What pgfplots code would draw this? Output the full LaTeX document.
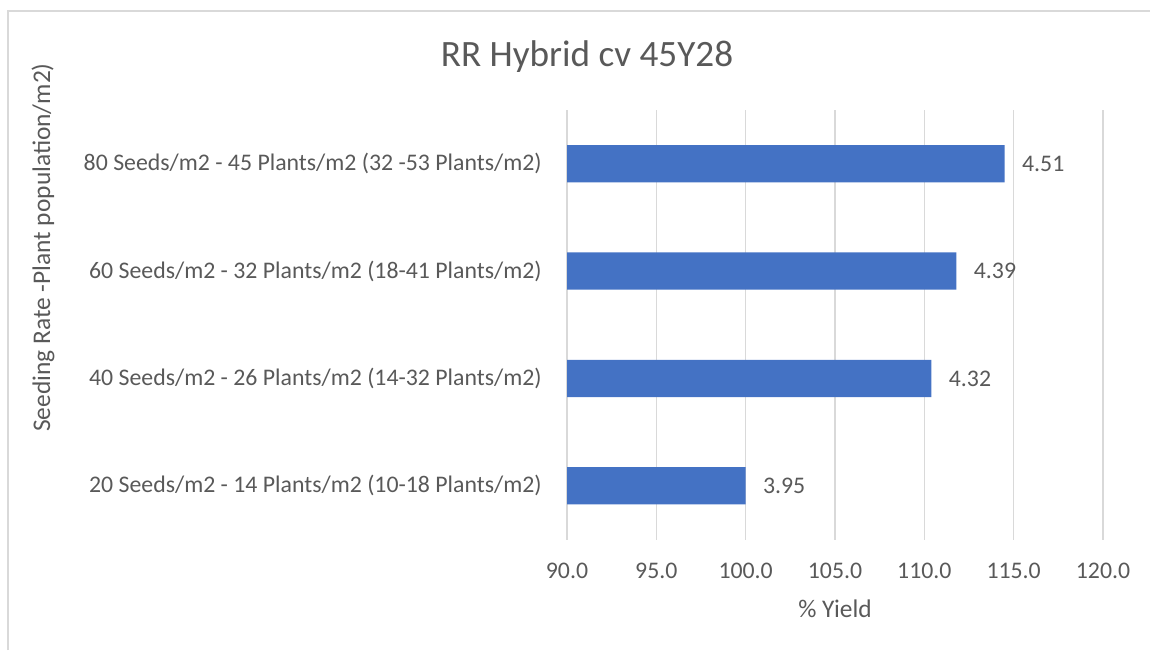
\documentclass[border=0pt]{standalone}
\usepackage{fontspec}
\setmainfont{Carlito}
\usepackage{pgfplots}
\pgfplotsset{compat=1.18}
\definecolor{barblue}{HTML}{4472C4}
\definecolor{txtgray}{HTML}{595959}
\definecolor{gridgray}{HTML}{D9D9D9}
\begin{document}
\begin{tikzpicture}
\useasboundingbox (0,0) rectangle (575pt,325pt);
\draw[gridgray, line width=0.6pt] (4pt,0) -- (4pt,319.5pt) -- (575pt,319.5pt);
\begin{axis}[
  name=ax, at={(283.5pt,55.25pt)}, anchor=south west,
  scale only axis, width=268pt, height=214.75pt,
  xbar, bar width=18.65pt,
  xmin=90, xmax=120, xtick={90,95,...,120},
  ymin=-0.5, ymax=3.5, ytick={0,1,2,3},
  yticklabels={20 Seeds/m2 - 14 Plants/m2 (10-18 Plants/m2),
               40 Seeds/m2 - 26 Plants/m2 (14-32 Plants/m2),
               60 Seeds/m2 - 32 Plants/m2 (18-41 Plants/m2),
               80 Seeds/m2 - 45 Plants/m2 (32 -53 Plants/m2)},
  axis line style={draw=none},
  major tick length=0pt,
  xmajorgrids, grid style={gridgray, line width=0.8pt},
  tick label style={font=\fontsize{11.9}{14}\selectfont, text=txtgray},
  xticklabel style={inner sep=0pt, yshift=-11.75pt,
    /pgf/number format/.cd, fixed, fixed zerofill, precision=1, assume math mode=true},
  yticklabel style={inner sep=0pt, xshift=-12.5pt},
  point meta=explicit symbolic,
  nodes near coords,
  nodes near coords style={anchor=west, inner sep=0pt, xshift=8.5pt,
    font=\fontsize{11.9}{14}\selectfont, text=txtgray},
]
\addplot[fill=barblue, draw=none] table[x=x, y=y, meta=lab] {
x     y  lab
100.0 0  3.95
110.4 1  4.32
111.8 2  4.39
114.5 3  4.51
};
\end{axis}
\node[text=txtgray, font=\fontsize{12.7}{15}\selectfont] at ([yshift=-34.75pt]ax.south) {\% Yield};
\node[rotate=90, text=txtgray, font=\fontsize{12.7}{15}\selectfont] at (21.5pt,201.25pt) {Seeding Rate -Plant population/m2)};
\node[text=txtgray, font=\fontsize{18.6}{22}\selectfont] at (293.5pt,296.5pt) {RR Hybrid cv 45Y28};
\end{tikzpicture}
\end{document}
